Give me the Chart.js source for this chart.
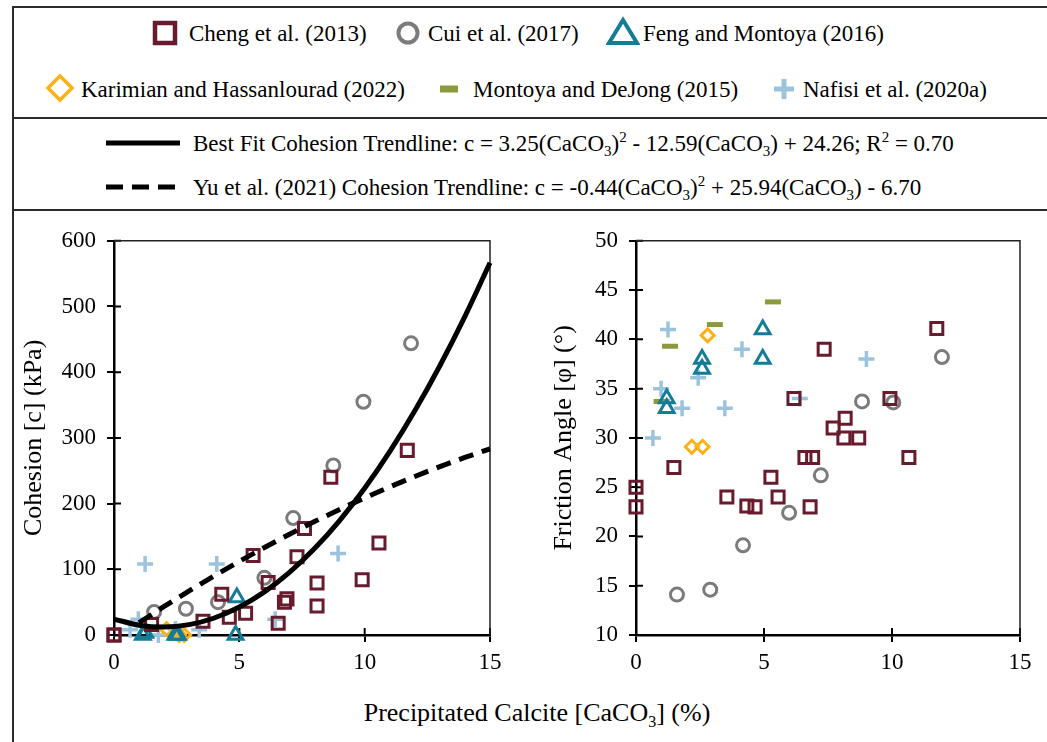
<!DOCTYPE html>
<html>
<head>
<meta charset="utf-8">
<script src="https://cdn.jsdelivr.net/npm/chart.js@4.4.1/dist/chart.umd.min.js"></script>
<style>
  body { margin: 0; background: #fff; }
  #fig { position: relative; width: 1047px; height: 742px; overflow: hidden; background: #fff;
         font-family: "Liberation Serif", "Times New Roman", serif; color: #000; }
  .rule { position: absolute; background: #2b2b2b; }
  .mk { position: absolute; transform: translate(-50%, -50%); }
  .lbl { position: absolute; font-size: 23px; line-height: 1; white-space: nowrap; transform: translateY(-50%); }
  .lbl sub, .lbl sup { font-size: 15px; line-height: 0; }
  canvas { position: absolute; }
  #xtitle { position: absolute; left: 537px; top: 713px; transform: translate(-50%, -50%);
            font-size: 26px; white-space: nowrap; }
  #xtitle sub { font-size: 16px; line-height: 0; }
</style>
</head>
<body>
<div id="fig">
  <!-- outer frame and legend separators -->
  <div class="rule" style="left:12px; top:6px; width:1035px; height:2px"></div>
  <div class="rule" style="left:12px; top:117px; width:1035px; height:2px"></div>
  <div class="rule" style="left:12px; top:209px; width:1035px; height:2px"></div>
  <div class="rule" style="left:12px; top:6px; width:2px; height:736px"></div>

  <!-- legend, row 1 -->
  <svg class="mk" style="left:165px; top:33px" width="26" height="26"><rect x="3" y="3" width="20" height="20" fill="none" stroke="#681b2c" stroke-width="4.5"/></svg>
  <span class="lbl" style="left:189px; top:33px">Cheng et al. (2013)</span>
  <svg class="mk" style="left:408px; top:33px" width="26" height="26"><circle cx="13" cy="13" r="9.5" fill="none" stroke="#7b7b7b" stroke-width="4"/></svg>
  <span class="lbl" style="left:428px; top:33px">Cui et al. (2017)</span>
  <svg class="mk" style="left:623px; top:31px" width="34" height="30"><polygon points="17,4 31,27 3,27" fill="none" stroke="#137c99" stroke-width="4" stroke-linejoin="miter"/></svg>
  <span class="lbl" style="left:643px; top:33px">Feng and Montoya (2016)</span>

  <!-- legend, row 2 -->
  <svg class="mk" style="left:60px; top:88px" width="30" height="30"><polygon points="15,3 27,15 15,27 3,15" fill="none" stroke="#fbb117" stroke-width="3.5"/></svg>
  <span class="lbl" style="left:81px; top:89px">Karimian and Hassanlourad (2022)</span>
  <svg class="mk" style="left:449px; top:89px" width="22" height="10"><rect x="2" y="1.5" width="18" height="7" fill="#8c9a3d"/></svg>
  <span class="lbl" style="left:473px; top:89px">Montoya and DeJong (2015)</span>
  <svg class="mk" style="left:784px; top:89px" width="24" height="24"><path d="M12 2 V22 M2 12 H22" stroke="#9cc3de" stroke-width="5"/></svg>
  <span class="lbl" style="left:803px; top:89px">Nafisi et al. (2020a)</span>

  <!-- trendline legend -->
  <svg class="mk" style="left:143px; top:143px" width="74" height="10"><line x1="0" y1="5" x2="74" y2="5" stroke="#000" stroke-width="5"/></svg>
  <span class="lbl" style="left:193px; top:143px">Best Fit Cohesion Trendline: c = 3.25(CaCO<sub>3</sub>)<sup>2</sup> - 12.59(CaCO<sub>3</sub>) + 24.26; R<sup>2</sup> = 0.70</span>
  <svg class="mk" style="left:143px; top:187px" width="74" height="10"><line x1="0" y1="5" x2="74" y2="5" stroke="#000" stroke-width="5" stroke-dasharray="17,9"/></svg>
  <span class="lbl" style="left:193px; top:187px">Yu et al. (2021) Cohesion Trendline: c = -0.44(CaCO<sub>3</sub>)<sup>2</sup> + 25.94(CaCO<sub>3</sub>) - 6.70</span>

  <canvas id="cohChart" width="500" height="480" style="left:13px; top:216px"></canvas>
  <canvas id="phiChart" width="520" height="480" style="left:525px; top:216px"></canvas>

  <div id="xtitle">Precipitated Calcite [CaCO<sub>3</sub>] (%)</div>
</div>

<script>
// ---- data: calcite content (%) vs cohesion (kPa) ----
const chengCohX = [0, 0, 1.5, 3.55, 4.3, 4.6, 5.25, 5.55, 6.15, 6.55, 6.8, 6.9, 7.3, 7.6, 8.1, 8.1, 8.65, 9.9, 10.57, 11.7];
const chengCoh  = [0, 0, 16, 21, 62, 27, 33, 121, 80, 18, 50, 55, 119, 162, 79, 44, 240, 84, 140, 281];
const cuiCohX   = [1.6, 2.87, 4.15, 6.0, 7.15, 8.75, 9.95, 11.85];
const cuiCoh    = [35, 40, 50, 87, 178, 258, 355, 444];
const fengCohX  = [1.15, 1.25, 2.45, 2.55, 4.85, 4.9];
const fengCoh   = [0, 3, 0, 0, 0, 57];
const kariCohX  = [2.1, 2.6, 2.8];
const kariCoh   = [9, 0, 0];
const nafiCohX  = [0.64, 0.97, 1.24, 1.77, 2.45, 3.4, 4.1, 6.43, 8.94];
const nafiCoh   = [8, 24, 108, 0, 9, 8, 108, 24, 124];

// trendlines, evaluated at whole-percent steps
const bestFitX = [0, 1, 2, 3, 4, 5, 6, 7, 8, 9, 10, 11, 12, 13, 14, 15];
const bestFitC = [24.26, 14.92, 12.08, 15.74, 25.90, 42.56, 65.72, 95.38, 131.54, 174.20, 223.36, 279.02, 341.18, 409.84, 485.00, 566.66];
const yuX = [1, 2, 3, 4, 5, 6, 7, 8, 9, 10, 11, 12, 13, 14, 15];
const yuC = [18.80, 43.42, 67.16, 90.02, 112.00, 133.10, 153.32, 172.66, 191.12, 208.70, 225.40, 241.22, 256.16, 270.22, 283.40];

// ---- data: calcite content (%) vs friction angle (deg) ----
const chengPhiX = [0, 0, 1.48, 3.55, 4.33, 4.65, 5.27, 5.55, 6.17, 6.6, 6.9, 6.8, 7.35, 7.7, 8.12, 8.17, 8.7, 9.92, 10.66, 11.75];
const chengPhi  = [25, 23, 27, 24, 23.1, 23, 26, 24, 34, 28, 28, 23, 39, 31, 30, 32, 30, 34, 28, 41.1];
const cuiPhiX   = [1.6, 2.9, 4.18, 5.98, 7.22, 8.83, 10.05, 11.95];
const cuiPhi    = [14.1, 14.6, 19.1, 22.4, 26.2, 33.7, 33.6, 38.2];
const fengPhiX  = [1.2, 1.2, 2.58, 2.58, 4.95, 4.95];
const fengPhi   = [34, 33, 38, 37, 41, 38];
const kariPhiX  = [2.8, 2.18, 2.6];
const kariPhi   = [40.4, 29.1, 29.1];
const montPhiX  = [1.0, 1.33, 3.08, 5.35];
const montPhi   = [33.7, 39.3, 41.5, 43.8];
const nafiPhiX  = [0.66, 0.98, 1.25, 1.8, 2.43, 3.47, 4.14, 6.4, 9.0];
const nafiPhi   = [30, 35, 41, 33, 36.1, 33, 39, 34, 38];

const X_RANGE = [0, 15];
const COH_RANGE = [0, 600];
const PHI_RANGE = [10, 50];

// ---- styling ----
const FONT = "'Liberation Serif', 'Times New Roman', serif";
const C_CHENG = '#681b2c', C_CUI = '#7b7b7b', C_FENG = '#137c99';
const C_KARI = '#fbb117', C_MONT = '#8c9a3d', C_NAFI = '#9cc3de';

const pts = (xs, ys) => xs.map((x, i) => ({ x, y: ys[i] }));

function marker(label, xs, ys, color, style, radius, width) {
  return {
    type: 'scatter', label, data: pts(xs, ys), clip: false,
    pointStyle: style, pointRadius: radius, pointHoverRadius: radius,
    pointBorderColor: color, pointBackgroundColor: 'rgba(0,0,0,0)', pointBorderWidth: width
  };
}

const sets = {
  cheng: (x, y) => marker('Cheng et al. (2013)', x, y, C_CHENG, 'rect', 8.5, 3),
  cui:   (x, y) => marker('Cui et al. (2017)', x, y, C_CUI, 'circle', 6.5, 3),
  feng:  (x, y) => marker('Feng and Montoya (2016)', x, y, C_FENG, 'triangle', 8.5, 3),
  kari:  (x, y) => marker('Karimian and Hassanlourad (2022)', x, y, C_KARI, 'rectRot', 6.5, 3),
  mont:  (x, y) => marker('Montoya and DeJong (2015)', x, y, C_MONT, 'line', 8, 5),
  nafi:  (x, y) => marker('Nafisi et al. (2020a)', x, y, C_NAFI, 'cross', 8, 3.5)
};

// cross-over tick marks and the top/right plot frame
const frameTicks = {
  id: 'frameTicks',
  beforeDatasetsDraw(chart) {
    const { ctx, chartArea: a, scales } = chart;
    ctx.save();
    ctx.strokeStyle = '#000';
    ctx.lineWidth = 2;
    ctx.beginPath();
    scales.x.ticks.forEach(t => {
      const px = scales.x.getPixelForValue(t.value);
      ctx.moveTo(px, a.bottom); ctx.lineTo(px, a.bottom - 7);
    });
    scales.y.ticks.forEach(t => {
      const py = scales.y.getPixelForValue(t.value);
      ctx.moveTo(a.left, py); ctx.lineTo(a.left + 7, py);
    });
    ctx.stroke();
    ctx.lineWidth = 1.5;
    ctx.strokeStyle = '#222';
    ctx.beginPath();
    ctx.moveTo(a.left, a.top); ctx.lineTo(a.right, a.top); ctx.lineTo(a.right, a.bottom);
    ctx.stroke();
    ctx.restore();
  }
};

function axes(yRange, yStep, yTitle, yWidth, titlePad) {
  const tickFont = { family: FONT, size: 23 };
  const grid = { display: true, drawOnChartArea: false, drawTicks: true, tickLength: 7, color: '#000', lineWidth: 2 };
  return {
    x: {
      type: 'linear', min: X_RANGE[0], max: X_RANGE[1],
      ticks: { stepSize: 5, color: '#000', font: tickFont, padding: 7, maxRotation: 0 },
      grid, border: { color: '#000', width: 2.5 },
      afterFit: s => { s.height = 40; }
    },
    y: {
      type: 'linear', min: yRange[0], max: yRange[1],
      ticks: { stepSize: yStep, color: '#000', font: tickFont, padding: 11 },
      grid, border: { color: '#000', width: 2.5 },
      title: { display: true, text: yTitle, color: '#000', font: { family: FONT, size: 26 }, padding: { top: titlePad, bottom: 0 } },
      afterFit: s => { s.width = yWidth; }
    }
  };
}

function baseOptions(scales, padRight) {
  return {
    responsive: false, animation: false, devicePixelRatio: 1,
    layout: { padding: { top: 20, right: padRight, bottom: 21, left: 0 } },
    plugins: { legend: { display: false }, tooltip: { enabled: false } },
    scales
  };
}

// Cohesion chart
new Chart(document.getElementById('cohChart'), {
  type: 'scatter',
  data: {
    datasets: [
      { type: 'line', label: 'Best Fit Cohesion Trendline', data: pts(bestFitX, bestFitC), borderColor: '#000',
        borderWidth: 5, pointRadius: 0, cubicInterpolationMode: 'monotone', fill: false, clip: false, order: -1 },
      { type: 'line', label: 'Yu et al. (2021) Cohesion Trendline', data: pts(yuX, yuC), borderColor: '#000',
        borderWidth: 5, borderDash: [15, 9], pointRadius: 0, cubicInterpolationMode: 'monotone', fill: false, clip: false, order: -1 },
      sets.cheng(chengCohX, chengCoh),
      sets.cui(cuiCohX, cuiCoh),
      sets.feng(fengCohX, fengCoh),
      sets.kari(kariCohX, kariCoh),
      sets.nafi(nafiCohX, nafiCoh)
    ]
  },
  options: baseOptions(axes(COH_RANGE, 100, 'Cohesion [c] (kPa)', 101, 6), 23),
  plugins: [frameTicks]
});

// Friction angle chart
new Chart(document.getElementById('phiChart'), {
  type: 'scatter',
  data: {
    datasets: [
      sets.cheng(chengPhiX, chengPhi),
      sets.cui(cuiPhiX, cuiPhi),
      sets.feng(fengPhiX, fengPhi),
      sets.kari(kariPhiX, kariPhi),
      sets.mont(montPhiX, montPhi),
      sets.nafi(nafiPhiX, nafiPhi)
    ]
  },
  options: baseOptions(axes(PHI_RANGE, 5, 'Friction Angle [φ] (°)', 111, 24), 25),
  plugins: [frameTicks]
});
</script>
</body>
</html>
